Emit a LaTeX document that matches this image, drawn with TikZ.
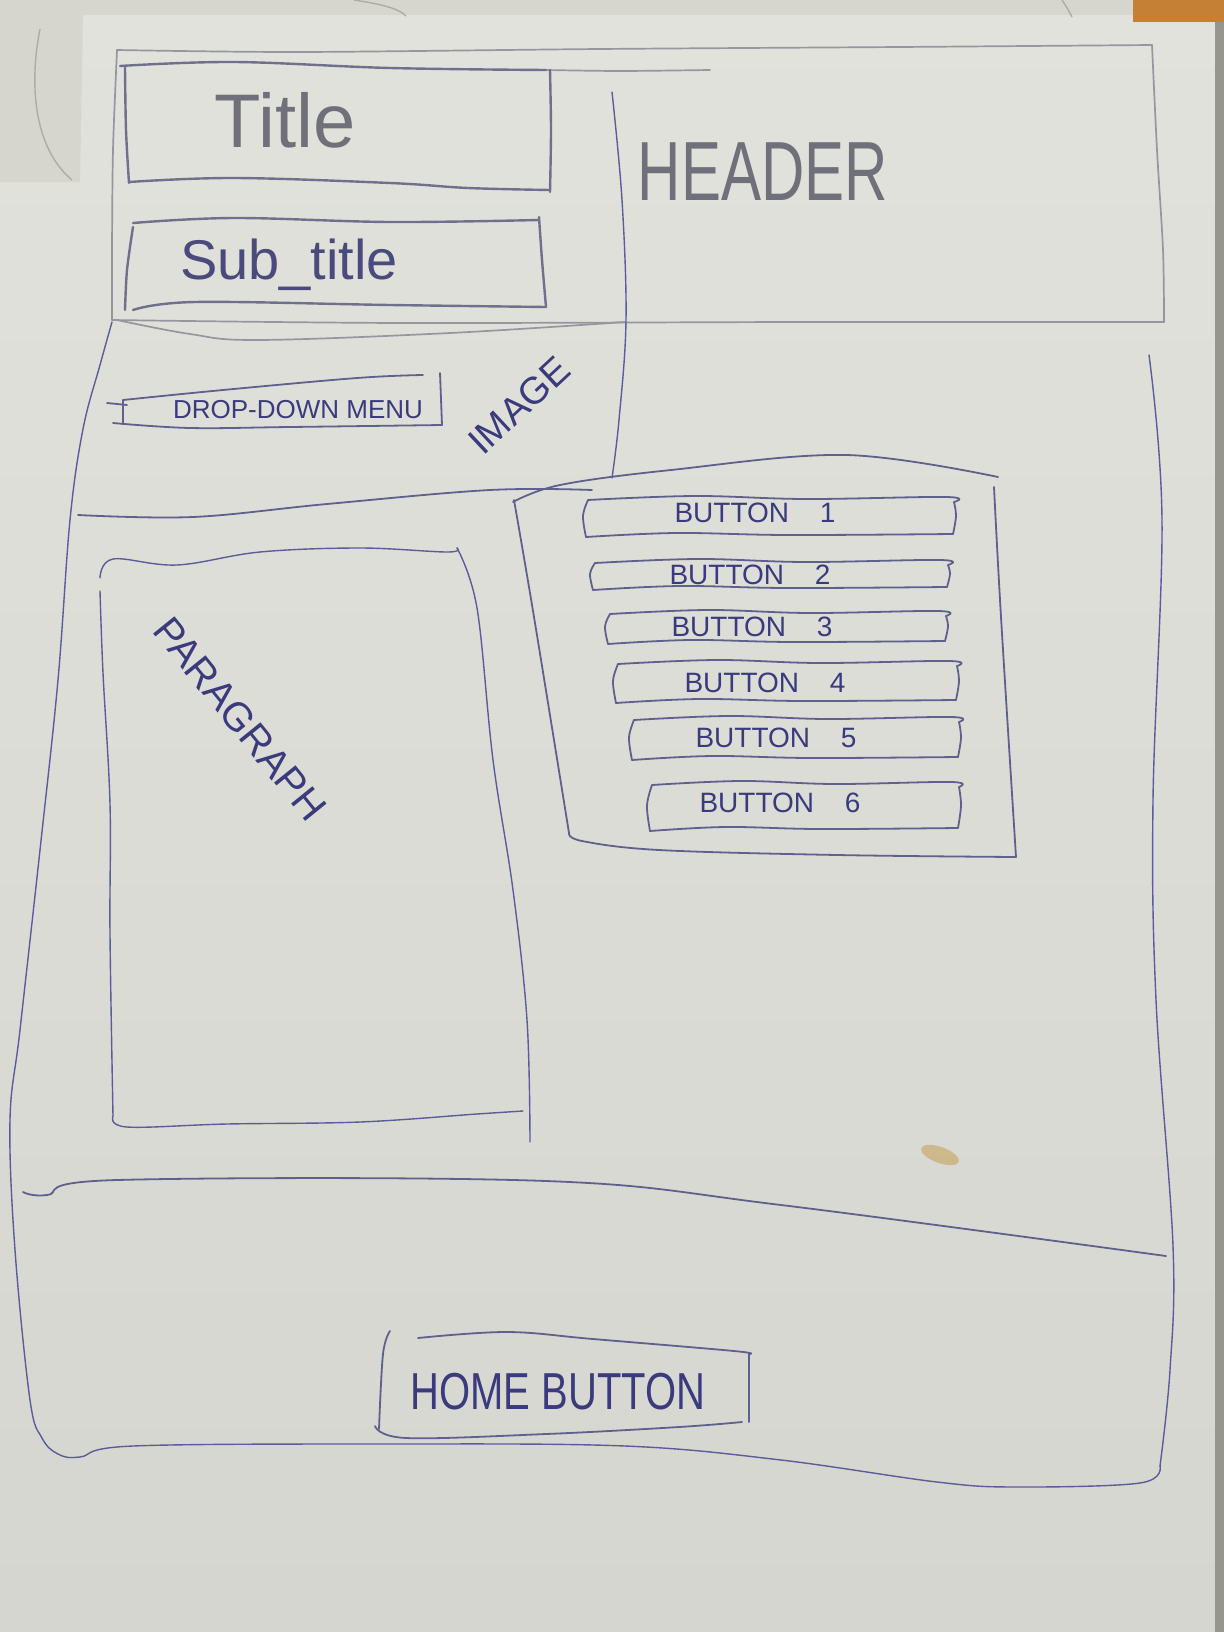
\documentclass[tikz,border=0pt]{standalone}
\usepackage{fontspec}
\setmainfont{Liberation Sans}
\definecolor{paper}{RGB}{226,226,220}
\definecolor{paperlow}{RGB}{214,214,208}
\definecolor{under}{RGB}{214,214,206}
\definecolor{ink}{RGB}{96,96,140}
\definecolor{inkthin}{RGB}{92,92,155}
\definecolor{inktext}{RGB}{58,58,125}
\definecolor{pencil}{RGB}{112,112,122}
\definecolor{pencilline}{RGB}{150,150,160}
\definecolor{boxline}{RGB}{112,112,140}
\definecolor{desk}{RGB}{196,128,52}
\definecolor{edge}{RGB}{150,150,140}
\definecolor{stain}{RGB}{196,158,80}

% a hand-drawn box: x1 y1 x2 y2
\newcommand\sketchbox[5][]{%
  \draw[pen,#1] plot[smooth,tension=0.6] coordinates {({#2+4},{#3+4}) ({0.7*#2+0.3*#4},{#3}) ({0.4*#2+0.6*#4},{#3+3}) ({#4-8},{#3+1}) ({#4},{#3+6})};
  \draw[pen,#1] plot[smooth,tension=0.6] coordinates {({#4},{#3+6}) ({#4+2},{0.5*#3+0.5*#5}) ({#4-1},{#5-2})};
  \draw[pen,#1] plot[smooth,tension=0.6] coordinates {({#2+2},{#5+1}) ({0.75*#2+0.25*#4},{#5-3}) ({0.45*#2+0.55*#4},{#5-1}) ({#4-1},{#5-2})};
  \draw[pen,#1] plot[smooth,tension=0.6] coordinates {({#2+4},{#3+4}) ({#2-1},{0.5*#3+0.5*#5}) ({#2+2},{#5+1})};
}

\begin{document}
\begin{tikzpicture}[x=0.5pt,y=-0.5pt,
  pen/.style={draw=ink,line width=0.9pt,line cap=round,line join=round},
  thinpen/.style={draw=inkthin,line width=0.7pt,line cap=round,line join=round},
  greypen/.style={draw=pencilline,line width=0.85pt,line cap=round,line join=round},
  heavypen/.style={draw=boxline,line width=1.2pt,line cap=round,line join=round},
  label/.style={text=inktext,inner sep=0pt},
  btntext/.style={label,font=\fontsize{14}{14}\selectfont},
]
\useasboundingbox (0,0) rectangle (1224,1632);

% paper, desk and sheet edges
\shade[top color=paper,bottom color=paperlow] (0,0) rectangle (1224,1632);
\fill[under] (0,0) rectangle (1224,15);
\fill[under] (0,0) -- (83,15) -- (80,182) -- (0,182) -- cycle;
\fill[edge] (1215,0) rectangle (1224,1632);
\fill[desk] (1133,0) rectangle (1224,22);
\draw[edge!70!paper,line width=0.7pt] (40,29) .. controls (28,90) and (36,150) .. (72,180);
\draw[edge!70!paper,line width=0.7pt] (354,0) .. controls (380,4) and (398,8) .. (406,16);
\draw[edge!70!paper,line width=0.7pt] (1062,0) .. controls (1066,6) and (1069,11) .. (1072,17);
\fill[stain,opacity=0.55] (940,1155) ellipse [x radius=20, y radius=8, rotate=-20];

% header frame
\draw[greypen] plot[smooth] coordinates {(117,50) (300,52) (600,49) (900,47) (1152,45)};
\draw[greypen] plot[smooth] coordinates {(1152,45) (1157,150) (1163,250) (1164,322)};
\draw[greypen] plot[smooth] coordinates {(112,320) (400,323) (800,322) (1164,322)};
\draw[greypen] plot[smooth] coordinates {(117,50) (113,150) (112,250) (112,320)};
\draw[greypen] plot[smooth] coordinates {(546,70) (620,71) (710,70)};
\draw[greypen] plot[smooth,tension=0.6] coordinates {(117,320) (190,334) (258,340) (450,333) (625,322)};

% title and sub-title boxes
\draw[heavypen] plot[smooth,tension=0.6] coordinates {(120,66) (234,62) (390,68) (546,70)};
\draw[heavypen] plot[smooth] coordinates {(550,70) (551,130) (550,192)};
\draw[heavypen] plot[smooth,tension=0.6] coordinates {(129,182) (234,178) (390,183) (468,188) (550,190)};
\draw[heavypen] plot[smooth] coordinates {(125,67) (126,130) (129,183)};
\draw[heavypen] plot[smooth,tension=0.6] coordinates {(133,223) (234,218) (390,222) (539,220)};
\draw[heavypen] plot[smooth] coordinates {(539,217) (542,260) (546,307)};
\draw[heavypen] plot[smooth,tension=0.6] coordinates {(133,310) (195,302) (390,305) (546,307)};
\draw[heavypen] plot[smooth] coordinates {(133,227) (127,270) (125,310)};
\node[text=pencil,inner sep=0pt,font=\fontsize{38}{38}\selectfont] (title) at (285,120) {Title};
\node[text=inktext!70!pencil,inner sep=0pt,font=\fontsize{28}{28}\selectfont] (subtitle) at (289,265) {Sub\_title};
\node[text=pencil,inner sep=0pt,font=\fontsize{30}{30}\selectfont] (header) at (763,172) {\scalebox{1}[1.4]{HEADER}};

% main page frame
\draw[thinpen] plot[smooth,tension=0.6] coordinates {(112,322) (100,365) (83,429) (70,520) (58,680) (40,850) (20,1030) (10,1120) (15,1250) (30,1400) (42,1438) (58,1454) (80,1457) (133,1446) (390,1444) (625,1446) (781,1460) (937,1482) (1015,1487) (1140,1483) (1160,1466)};
\draw[thinpen] plot[smooth,tension=0.6] coordinates {(1149,355) (1162,520) (1153,800) (1156,1000) (1173,1246) (1170,1370) (1160,1466)};
\draw[thinpen] plot[smooth,tension=0.6] coordinates {(612,92) (622,200) (626,320) (619,420) (612,478)};

% image section
\draw[pen] plot[smooth,tension=0.6] coordinates {(78,515) (193,517) (327,504) (490,490) (592,490)};
\draw[pen] plot[smooth,tension=0.6] coordinates {(123,400) (223,390) (357,378) (423,375)};
\draw[pen] (440,373) -- (442,425);
\draw[pen] plot[smooth,tension=0.6] coordinates {(113,423) (190,428) (290,427) (442,425)};
\draw[pen] (123,400) -- (123,424);
\draw[pen] (107,403) -- (127,405);
\node[label,font=\fontsize{13}{13}\selectfont] (dropdown) at (298,410) {DROP-DOWN MENU};
\node[label,font=\fontsize{19}{19}\selectfont,rotate=43] (image) at (519,405) {IMAGE};

% button panel
\draw[pen] plot[smooth,tension=0.6] coordinates {(513,502) (560,485) (671,470) (846,455) (998,477)};
\draw[pen] plot[smooth,tension=0.6] coordinates {(994,487) (1001,617) (1016,857)};
\draw[pen] plot[smooth,tension=0.6] coordinates {(569,833) (582,841) (659,850) (837,855) (1016,857)};
\draw[pen] plot[smooth,tension=0.6] coordinates {(514,500) (534,617) (569,833)};

\sketchbox{584}{496}{954}{536}
\sketchbox{591}{559}{948}{589}
\sketchbox{606}{610}{946}{643}
\sketchbox{614}{660}{957}{702}
\sketchbox{630}{716}{959}{759}
\sketchbox{648}{781}{959}{830}
\node[btntext] (b1) at (755,513) {BUTTON\hspace{1.1em}1};
\node[btntext] (b2) at (750,575) {BUTTON\hspace{1.1em}2};
\node[btntext] (b3) at (752,627) {BUTTON\hspace{1.1em}3};
\node[btntext] (b4) at (765,683) {BUTTON\hspace{1.1em}4};
\node[btntext] (b5) at (776,738) {BUTTON\hspace{1.1em}5};
\node[btntext] (b6) at (780,803) {BUTTON\hspace{1.1em}6};

% paragraph box
\draw[thinpen] plot[smooth,tension=0.6] coordinates {(100,578) (113,559) (177,565) (260,552) (360,548) (447,552) (457,548)};
\draw[thinpen] plot[smooth,tension=0.6] coordinates {(457,548) (477,608) (493,760) (513,890) (527,1020) (530,1142)};
\draw[thinpen] plot[smooth,tension=0.6] coordinates {(113,1116) (127,1127) (227,1124) (360,1122) (477,1114) (523,1111)};
\draw[thinpen] plot[smooth,tension=0.6] coordinates {(100,591) (103,673) (110,804) (110,934) (113,1116)};
\node[label,font=\fontsize{20}{20}\selectfont,rotate=-51] (paragraph) at (240,719) {PARAGRAPH};

% footer
\draw[pen] plot[smooth,tension=0.6] coordinates {(23,1192) (47,1195) (117,1180) (546,1181) (781,1205) (1166,1256)};
\draw[pen] plot[smooth,tension=0.6] coordinates {(390,1331) (383,1354) (379,1429)};
\draw[pen] plot[smooth,tension=0.6] coordinates {(418,1338) (507,1332) (593,1339) (734,1351) (749,1354)};
\draw[pen] (749,1354) -- (749,1422);
\draw[pen] plot[smooth,tension=0.6] coordinates {(375,1426) (406,1438) (546,1434) (679,1427) (742,1422)};
\node[label,font=\fontsize{20}{20}\selectfont] (home) at (558,1392) {\scalebox{1}[1.3]{HOME BUTTON}};
\end{tikzpicture}
\end{document}
